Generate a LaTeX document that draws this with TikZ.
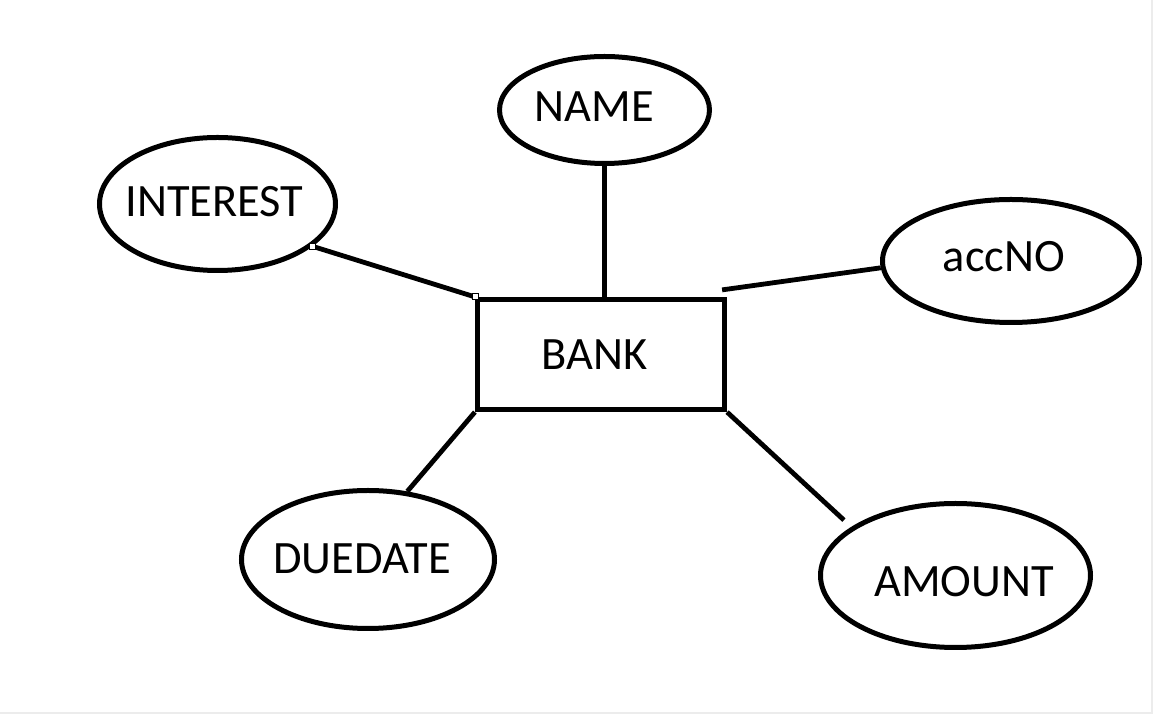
\documentclass[tikz,border=0pt]{standalone}
\usepackage{fontspec}
\setmainfont{Carlito}
\usetikzlibrary{shapes.geometric}
\begin{document}
\begin{tikzpicture}[x=0.5pt,y=-0.5pt,
  attr/.style={ellipse,draw,line width=2.5pt,inner sep=0pt},
  entity/.style={rectangle,draw,line width=2.6pt,inner sep=0pt,minimum width=123.5pt,minimum height=55pt},
  lbl/.style={anchor=base,inner sep=0pt,font=\fontsize{23.2}{27}\selectfont},
  link/.style={line width=2.4pt},
  handle/.style={rectangle,draw,fill=white,line width=0.4pt,minimum size=3pt,inner sep=0pt}]
\useasboundingbox (0,0) rectangle (1153,715);
\draw[gray!15,line width=1pt] (0,713.5) -- (1151.5,713.5) -- (1151.5,0);
% entity
\node[entity] (bank) at (601,354.5) {};
\node[lbl] (bankL) at (594.5,370) {BANK};
% attributes
\node[attr,minimum width=105pt,minimum height=53.5pt] (name) at (604.5,110) {};
\node[lbl] (nameL) at (594.5,122) {NAME};
\node[attr,minimum width=118pt,minimum height=66.5pt] (interest) at (217.5,204) {};
\node[lbl] (interestL) at (214.5,217) {INTEREST};
\node[attr,minimum width=128.5pt,minimum height=61.5pt] (accno) at (1011,261) {};
\node[lbl] (accnoL) at (1004,272) {accNO};
\node[attr,minimum width=126.5pt,minimum height=69pt] (duedate) at (368,559.5) {};
\node[lbl] (duedateL) at (362,574) {DUEDATE};
\node[attr,minimum width=135pt,minimum height=72pt] (amount) at (955.5,575.5) {};
\node[lbl] (amountL) at (964,597) {AMOUNT};
% connectors
\draw[link] (name.south) -- (name.south |- bank.north);
\draw[link] (interest.-24.8) -- (bank.north west);
\node[handle] (h1) at (interest.-24.8) {};
\node[handle] (h2) at (bank.north west) {};
\draw[link] (accno.-177.7) -- ([xshift=-2.5pt,yshift=3.5pt]bank.north east);
\draw[link] (bank.south west) -- (duedate.60.5);
\draw[link,shorten >=5pt] (bank.south east) -- (amount.155.7);
\end{tikzpicture}
\end{document}
